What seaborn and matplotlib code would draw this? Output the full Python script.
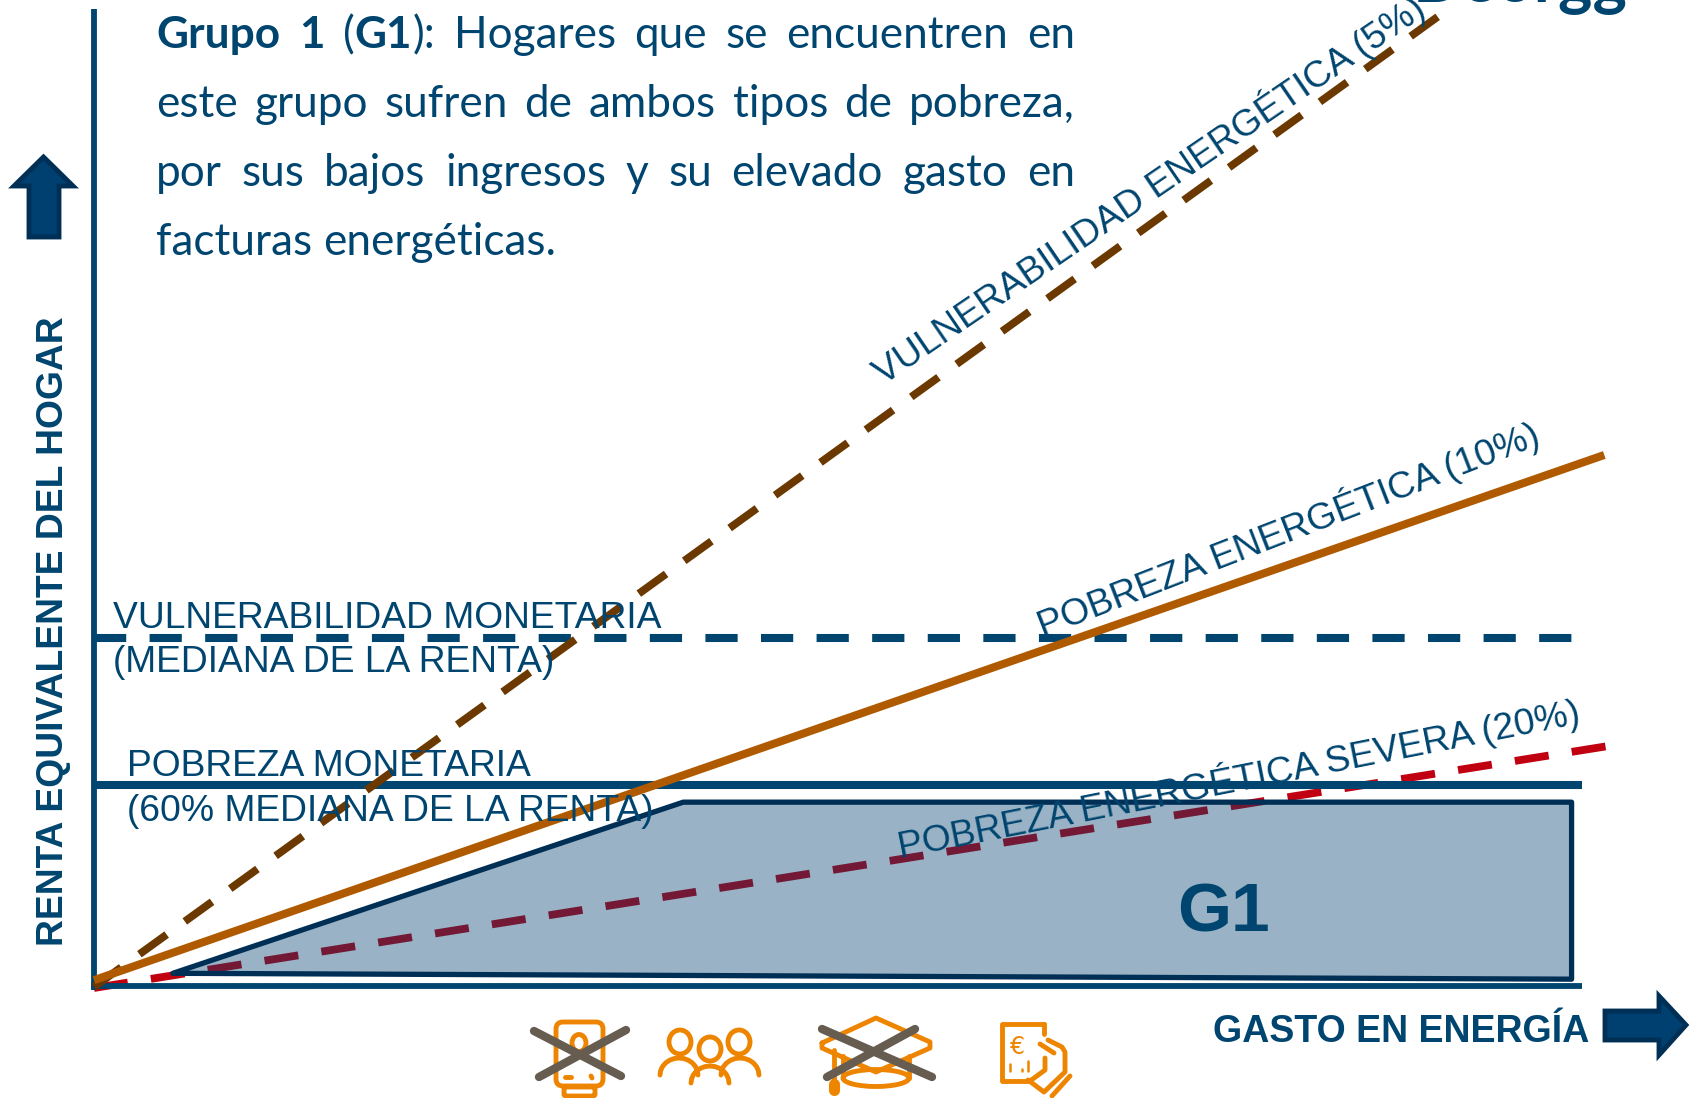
import numpy as np
import pandas as pd
import matplotlib
matplotlib.use("Agg")
import matplotlib.pyplot as plt
import seaborn as sns
from matplotlib.patches import Ellipse, FancyBboxPatch, Polygon
from matplotlib.transforms import Affine2D

# Chart values (percent of each axis length)
vuln_energy_x = [0, 90.3]
vuln_energy_y = [0, 99.2]
energy_poverty_x = [0, 101.5]
energy_poverty_y = [0.7, 54.4]
severe_x = [0, 101.6]
severe_y = [-0.1, 24.6]
median_x = [0, 100]
median_y = [35.7, 35.7]
poverty_line_x = [0, 100]
poverty_line_y = [20.7, 20.7]
g1_x = [5.3, 39.6, 99.3, 99.3]
g1_y = [1.4, 18.9, 18.9, 0.8]

paragraph = [
    [("Grupo", True), ("1", True), ("(|G1|):", None), ("Hogares", False), ("que", False),
     ("se", False), ("encuentren", False), ("en", False)],
    [(w, False) for w in "este grupo sufren de ambos tipos de pobreza,".split()],
    [(w, False) for w in "por sus bajos ingresos y su elevado gasto en".split()],
    [(w, False) for w in "facturas energéticas.".split()],
]

W, H = 1699, 1098
NAVY = "#00456F"
DARK = "#002F56"
ICON = "#EE8500"
CROSS = "#665C50"

sns.set_theme(style="white")
plt.rcParams["font.family"] = ["Liberation Sans", "DejaVu Sans"]

fig = plt.figure(figsize=(W / 100, H / 100), dpi=100)
ax = fig.add_axes([0, 0, 1, 1])
ax.set_xlim(-94 / 14.88, (W - 94) / 14.88)
ax.set_ylim((987 - H) / 9.78, 987 / 9.78)
ax.axis("off")

# pixel coordinates (from top left) for text and icons
PX = Affine2D().scale(1, -1).translate(0, H)


def line(x, y, color, lw, dash=None, z=2):
    style = "-" if dash is None else (0, dash)
    sns.lineplot(x=x, y=y, ax=ax, color=color, linewidth=lw, linestyle=style,
                 estimator=None, sort=False, legend=False, zorder=z,
                 solid_capstyle="butt", dash_capstyle="butt")


# axes
line([0, 0], [-0.3, 100], NAVY, 4.2, z=3)
line([-0.2, 100], [0.1, 0.1], NAVY, 4.2, z=3)

line(severe_x, severe_y, "#C00010", 5.6, (4.4, 3.0), z=2)
line(median_x, median_y, NAVY, 5.8, (4.0, 2.9), z=2)
line(poverty_line_x, poverty_line_y, NAVY, 5.8, z=2)
line(vuln_energy_x, vuln_energy_y, "#6B3800", 5.6, (4.32, 2.88), z=3)

ax.fill(g1_x, g1_y, facecolor=(0, 0.25, 0.44, 0.4), edgecolor="none", zorder=4)
ax.fill(g1_x, g1_y, facecolor="none", edgecolor=DARK, linewidth=3.8, joinstyle="round", zorder=4)
line(energy_poverty_x, energy_poverty_y, "#B05A00", 5.8, z=5)


def label(x, y, s, size=26.8, rot=0, weight="normal", **kw):
    ax.text(x, y, s, transform=PX, fontsize=size, rotation=rot, color=NAVY, fontweight=weight,
            ha="left", va="baseline", rotation_mode="anchor", zorder=8, **kw)


label(113, 628, "VULNERABILIDAD MONETARIA")
label(113, 672, "(MEDIANA DE LA RENTA)")
label(127, 776, "POBREZA MONETARIA")
label(127, 821, "(60% MEDIANA DE LA RENTA)")
label(883, 385, "VULNERABILIDAD ENERGÉTICA (5%)", rot=34.3)
label(1043, 638, "POBREZA ENERGÉTICA (10%)", rot=21.2)
label(900, 858, "POBREZA ENERGÉTICA SEVERA (20%)", rot=11.2)
label(1177, 932, "G1", size=50, weight="bold")
label(1213, 1042, "GASTO EN ENERGÍA", size=27, weight="bold")
label(1413, 2, "Deorgg", size=47, weight="bold", family="Lato")
label(63, 946, "RENTA EQUIVALENTE DEL HOGAR", size=26.8, rot=90, weight="bold")

# justified paragraph, word by word
renderer = fig.canvas.get_renderer()
LEFT, RIGHT = 156, 1075
baselines = [48, 117, 186, 255]


def width(s, bold):
    t = ax.text(0, 0, s, fontsize=31.8, family="Lato", fontweight="bold" if bold else "normal")
    w = t.get_window_extent(renderer).width
    t.remove()
    return w


for row, (words, base) in enumerate(zip(paragraph, baselines)):
    # a word with bars is made of runs that alternate regular and bold
    runs = []
    for s, bold in words:
        if bold is None:
            parts = s.split("|")
            runs.append([(p, i % 2 == 1) for i, p in enumerate(parts)])
        else:
            runs.append([(s, bold)])
    total = sum(width(p, b) for r in runs for p, b in r)
    gap = (RIGHT - LEFT - total) / (len(runs) - 1) if row < 3 else width("n n", False) - 2 * width("n", False)
    x = LEFT
    for r in runs:
        for p, b in r:
            ax.text(x, base, p, transform=PX, fontsize=31.8, family="Lato", color=NAVY,
                    fontweight="bold" if b else "normal", ha="left", va="baseline", zorder=8)
            x += width(p, b)
        x += gap

# big arrows
for pts in ([(43.5, 157), (73, 186), (59, 186), (59, 237), (29, 237), (29, 186), (14, 186)],
            [(1605, 1011), (1659, 1011), (1659, 996), (1686, 1025), (1659, 1055), (1659, 1040), (1605, 1040)]):
    ax.add_patch(Polygon(pts, closed=True, transform=PX, facecolor="#004070", edgecolor=DARK,
                         linewidth=3.5, joinstyle="miter", zorder=6))


def stroke(xs, ys, color=ICON, lw=3.5):
    ax.plot(xs, ys, transform=PX, color=color, linewidth=lw, solid_capstyle="round",
            solid_joinstyle="round", zorder=6)


def ell(cx, cy, w, h):
    ax.add_patch(Ellipse((cx, cy), w, h, transform=PX, fill=False, edgecolor=ICON, linewidth=3.5, zorder=6))


def box(x, y, w, h, r=5):
    ax.add_patch(FancyBboxPatch((x, y), w, h, boxstyle=f"round,pad=0,rounding_size={r}", transform=PX,
                                fill=False, edgecolor=ICON, linewidth=3.5, zorder=6))


def arc(cx, cy, rx, ry):
    t = np.radians(np.arange(180, 361, 15))
    stroke(cx + rx * np.cos(t), cy + ry * np.sin(t))


# boiler icon
box(556, 1022, 47, 64, 7)
box(564, 1087, 31, 9, 2)
ell(579, 1043, 14, 17)
stroke([565, 571], [1077, 1077])
stroke([591, 592], [1076, 1078])
stroke([534, 621], [1031, 1076], CROSS, 6)
stroke([626, 539], [1030, 1077], CROSS, 6)

# people icon
ell(680, 1042, 22, 24)
ell(710, 1049, 22, 24)
ell(739, 1042, 22, 24)
arc(679, 1075, 19, 17)
arc(710, 1083, 19, 17)
arc(740, 1075, 19, 17)

# graduation cap icon
stroke([822, 876, 930, 930, 876, 822, 822], [1043, 1018, 1042, 1048, 1072, 1048, 1043])
ell(876, 1078, 66, 17)
stroke([843, 843], [1056, 1078])
stroke([909, 909], [1056, 1078])
stroke([834, 834], [1050, 1082], ICON, 3.5)
stroke([834, 834], [1084, 1090], ICON, 8)
stroke([822, 932], [1029, 1077], CROSS, 6)
stroke([915, 827], [1029, 1077], CROSS, 6)

# bill in hand icon
stroke([1044, 1002, 1002, 1030], [1024, 1024, 1081, 1081])
stroke([1044, 1044], [1024, 1034])
stroke([1048, 1062, 1065, 1065, 1044, 1028], [1040, 1047, 1052, 1072, 1092, 1080])
stroke([1040, 1054], [1044, 1053])
stroke([1045, 1045, 1030], [1058, 1070, 1081])
stroke([1070, 1052], [1076, 1096])
for gx, top in zip([1010, 1016, 1022, 1028], [1064, 1071, 1069, 1061]):
    stroke([gx, gx], [1071, top], ICON, 1.8)
ax.text(1018, 1047, "€", transform=PX, fontsize=17, color=ICON, ha="center", va="center",
        family="DejaVu Sans", zorder=6)

fig.savefig("out.png", dpi=100)
